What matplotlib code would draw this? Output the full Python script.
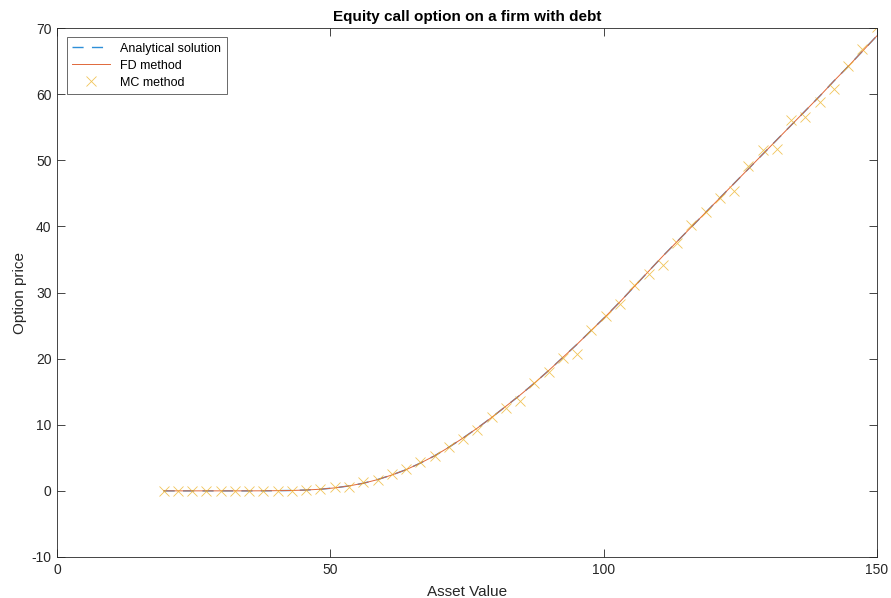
import matplotlib.pyplot as plt
import numpy as np

plt.rc("font", family=["Liberation Sans", "DejaVu Sans"])
plt.rc("axes", unicode_minus=False)
plt.rc("lines", scale_dashes=False)

# asset value grid (51 evenly spaced points)
asset = np.linspace(19.5, 150, 51)

# finite-difference / analytical price
fd_price = [
    0.0, 0.0, 0.0, 0.0, 0.0, 0.0, 0.0, 0.01, 0.03, 0.06,
    0.13, 0.25, 0.45, 0.75, 1.15, 1.7, 2.4, 3.2, 4.2, 5.3,
    6.6, 8.0, 9.5, 11.1, 12.8, 14.5, 16.3, 18.2, 20.2, 22.2,
    24.3, 26.4, 28.6, 30.9, 33.2, 35.5, 37.7, 39.9, 42.1, 44.3,
    46.5, 48.7, 50.9, 53.1, 55.3, 57.5, 59.7, 62.0, 64.2, 66.5,
    68.8,
]
analytical_price = fd_price

# Monte Carlo estimates
mc_price = [
    0.0, 0.0, 0.0, 0.0, 0.0, 0.0, 0.0, 0.0, 0.0, 0.0,
    0.1, 0.25, 0.6, 0.65, 1.3, 1.7, 2.6, 3.3, 4.4, 5.3,
    6.6, 7.8, 9.2, 11.2, 12.5, 13.55, 16.3, 18.0, 20.1, 20.7,
    24.3, 26.5, 28.2, 31.1, 32.8, 34.2, 37.5, 40.2, 42.2, 44.3,
    45.4, 49.2, 51.6, 51.7, 56.1, 56.6, 58.8, 60.8, 64.3, 66.8,
    70.1,
]

AX_COLOR = "#262626"

fig = plt.figure(figsize=(8.91, 5.98), dpi=100)
ax = fig.add_axes([0.064, 0.0686, 0.92, 0.8845])

ax.plot(asset, analytical_price, color="#2E8FD8", lw=1.0, dashes=(8, 6),
        label="Analytical solution")
ax.plot(asset, fd_price, "-", color="#E0683A", lw=0.7,
        label="FD method")
ax.plot(asset, mc_price, "x", color="#EDB120", ms=7, mew=0.6, alpha=0.75,
        label="MC method")

ax.set_xlim(0, 150)
ax.set_ylim(-10, 70)
ax.set_xticks([0, 50, 100, 150])
ax.set_yticks(np.arange(-10, 71, 10))

ax.tick_params(direction="in", length=6, width=0.6, colors=AX_COLOR,
               labelsize=10, top=True, right=True, pad=4)
for s in ax.spines.values():
    s.set_color(AX_COLOR)
    s.set_linewidth(0.6)

ax.set_xlabel("Asset Value", fontsize=11, color=AX_COLOR, labelpad=6)
ax.set_ylabel("Option price", fontsize=11, color=AX_COLOR, labelpad=3)
ax.set_title("Equity call option on a firm with debt", fontsize=11,
             fontweight="bold", color="black", pad=5)

leg = ax.legend(loc="upper left", fontsize=9, frameon=True, fancybox=False,
                borderpad=0.45, labelspacing=0.4, handlelength=3.0,
                handletextpad=0.8, borderaxespad=0,
                bbox_to_anchor=(0.012, 0.983))
leg.get_frame().set_edgecolor(AX_COLOR)
leg.get_frame().set_linewidth(0.6)

fig.savefig("out.png", dpi=100)
